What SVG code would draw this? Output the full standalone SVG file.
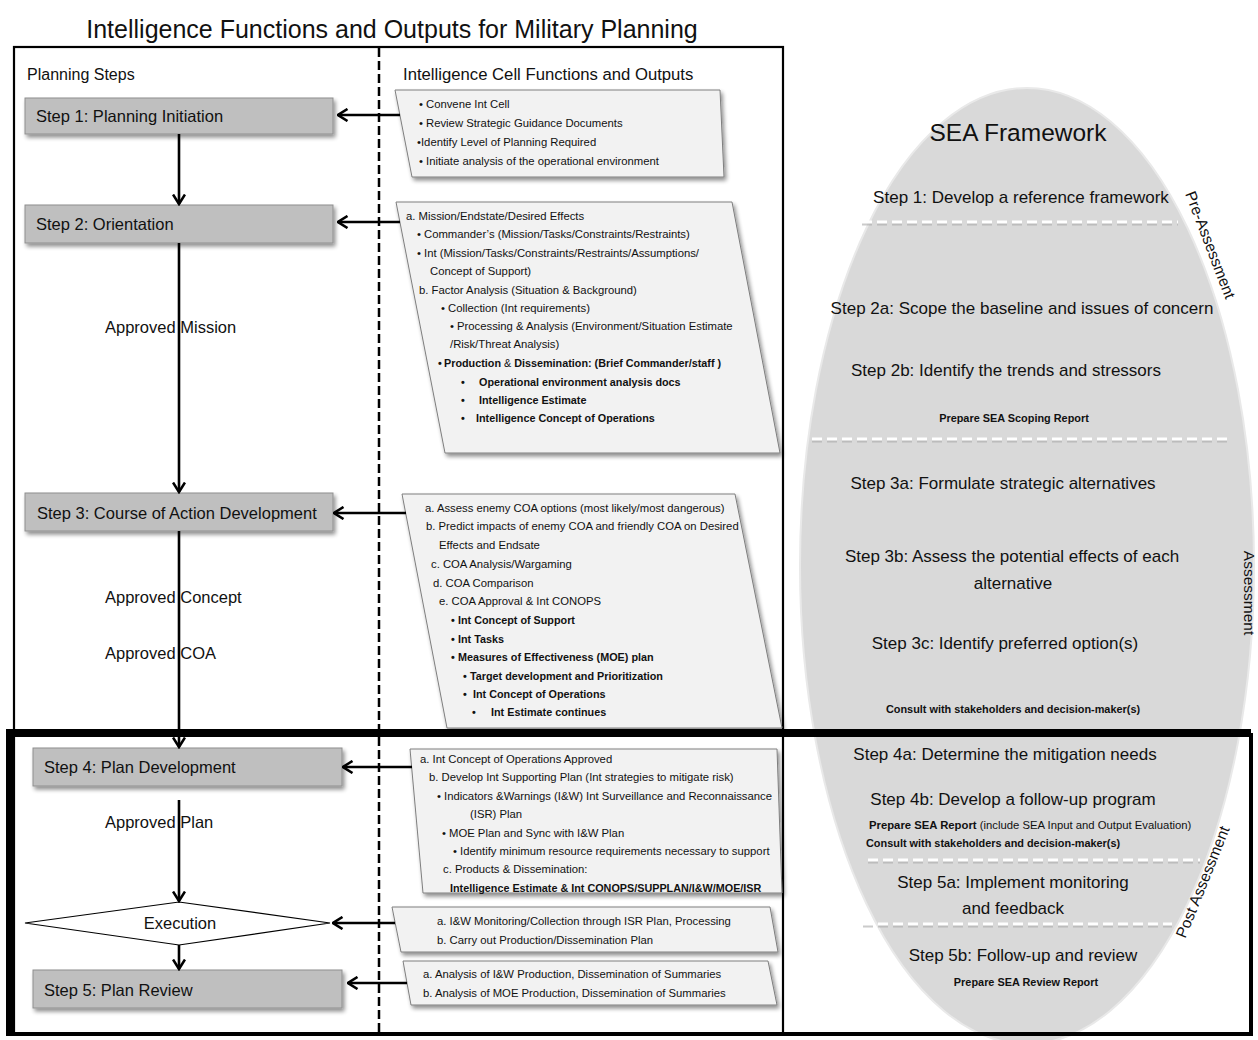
<svg xmlns="http://www.w3.org/2000/svg" width="1258" height="1040" viewBox="0 0 1258 1040">
  <defs>
    <style>
      text { font-family: "Liberation Sans", Arial, sans-serif; fill: #111; }
      .title { font-size: 25px; }
      .head { font-size: 16px; }
      .step { font-size: 16.5px; }
      .lbl { font-size: 16.5px; }
      .s { font-size: 11.3px; }
      .sb { font-size: 10.8px; font-weight: bold; }
      .sea { font-size: 17px; }
      .seab { font-size: 10.9px; font-weight: bold; }
      .side { font-size: 15.5px; }
      .box { fill: #bfbfbf; stroke: #8f8f8f; stroke-width: 1; }
      .para { fill: #f2f2f2; stroke: #7f7f7f; stroke-width: 1; }
      .flow { stroke: #000; stroke-width: 2.6; fill: none; }
      .wdash { stroke: #fff; stroke-width: 3; stroke-dasharray: 10 5; fill: none; }
      .wdash-sh { stroke: #a8a8a8; stroke-width: 3; stroke-dasharray: 10 5; fill: none; opacity: 0.6; }
    </style>
    <marker id="arr" viewBox="0 0 12 14" refX="10.5" refY="7" markerWidth="12" markerHeight="14" markerUnits="userSpaceOnUse" orient="auto">
      <path d="M1,1 L10.5,7 L1,13" fill="none" stroke="#000" stroke-width="2.6"/>
    </marker>
    <filter id="sh" x="-5%" y="-10%" width="115%" height="135%">
      <feGaussianBlur in="SourceAlpha" stdDeviation="2"/>
      <feOffset dx="2" dy="3"/>
      <feComponentTransfer><feFuncA type="linear" slope="0.45"/></feComponentTransfer>
      <feMerge><feMergeNode/><feMergeNode in="SourceGraphic"/></feMerge>
    </filter>
  </defs>

  <rect width="1258" height="1040" fill="#fff"/>

  <!-- SEA framework backdrop -->
  <g id="sea-framework">
    <ellipse cx="1027" cy="566" rx="227" ry="478" fill="#d9d9d9" stroke="#e9e9e9" stroke-width="2"/>
    <text class="title" x="1018" y="141" text-anchor="middle" style="font-size:24.5px">SEA Framework</text>

    <text class="sea" x="1021" y="203" text-anchor="middle">Step 1: Develop a reference framework</text>
    <line class="wdash-sh" x1="862" y1="224" x2="1178" y2="224"/>
    <line class="wdash" x1="862" y1="222" x2="1178" y2="222"/>
    <text class="side" transform="translate(1210,245) rotate(69)" x="0" y="5" text-anchor="middle">Pre-Assessment</text>

    <text class="sea" x="1022" y="314" text-anchor="middle">Step 2a: Scope the baseline and issues of concern</text>
    <text class="sea" x="1006" y="376" text-anchor="middle">Step 2b: Identify the trends and stressors</text>
    <text class="seab" x="1014" y="422" text-anchor="middle">Prepare SEA Scoping Report</text>
    <line class="wdash-sh" x1="812" y1="441" x2="1228" y2="441"/>
    <line class="wdash" x1="812" y1="439" x2="1228" y2="439"/>

    <text class="sea" x="1003" y="489" text-anchor="middle">Step 3a: Formulate strategic alternatives</text>
    <text class="sea" x="1012" y="562" text-anchor="middle">Step 3b: Assess the potential effects of each</text>
    <text class="sea" x="1013" y="589" text-anchor="middle">alternative</text>
    <text class="side" transform="translate(1249,593) rotate(90)" x="0" y="5" text-anchor="middle">Assessment</text>
    <text class="sea" x="1005" y="649" text-anchor="middle">Step 3c: Identify preferred option(s)</text>
    <text class="seab" x="1013" y="713" text-anchor="middle">Consult with stakeholders and decision-maker(s)</text>

    <text class="sea" x="1005" y="760" text-anchor="middle">Step 4a: Determine the mitigation needs</text>
    <text class="sea" x="1013" y="805" text-anchor="middle">Step 4b: Develop a follow-up program</text>
    <text x="869" y="829" style="font-size:11.3px"><tspan font-weight="bold">Prepare SEA Report</tspan> (include SEA Input and Output Evaluation)</text>
    <text class="seab" x="866" y="847">Consult with stakeholders and decision-maker(s)</text>
    <line class="wdash-sh" x1="868" y1="862" x2="1200" y2="862"/>
    <line class="wdash" x1="868" y1="860" x2="1200" y2="860"/>
    <text class="sea" x="1013" y="888" text-anchor="middle">Step 5a: Implement monitoring</text>
    <text class="sea" x="1013" y="914" text-anchor="middle">and feedback</text>
    <line class="wdash-sh" x1="863" y1="926" x2="1172" y2="926"/>
    <line class="wdash" x1="863" y1="924" x2="1172" y2="924"/>
    <text class="side" transform="translate(1203,882) rotate(-68)" x="0" y="5" text-anchor="middle">Post Assessment</text>
    <text class="sea" x="1023" y="961" text-anchor="middle">Step 5b: Follow-up and review</text>
    <text class="seab" x="1026" y="986" text-anchor="middle">Prepare SEA Review Report</text>
  </g>

  <!-- title and swimlane frame -->
  <text class="title" x="392" y="38" text-anchor="middle">Intelligence Functions and Outputs for Military Planning</text>
  <g id="lanes">
    <rect x="14" y="47" width="769" height="987" fill="none" stroke="#000" stroke-width="2.2"/>
    <line x1="379" y1="48" x2="379" y2="1033" stroke="#000" stroke-width="2.5" stroke-dasharray="9 4"/>
    <text class="head" x="27" y="80">Planning Steps</text>
    <text class="head" x="403" y="80" style="font-size:16.7px">Intelligence Cell Functions and Outputs</text>
  </g>

  <!-- planning steps -->
  <g id="step1">
    <rect class="box" x="25" y="98" width="308" height="36" filter="url(#sh)"/>
    <text class="step" x="36" y="122">Step 1: Planning Initiation</text>
  </g>
  <g id="step2">
    <rect class="box" x="25" y="205" width="308" height="38" filter="url(#sh)"/>
    <text class="step" x="36" y="230">Step 2: Orientation</text>
  </g>
  <g id="step3">
    <rect class="box" x="25" y="493" width="308" height="38" filter="url(#sh)"/>
    <text class="step" x="37" y="519">Step 3: Course of Action Development</text>
  </g>
  <g id="step4">
    <rect class="box" x="33" y="748" width="309" height="38" filter="url(#sh)"/>
    <text class="step" x="44" y="773">Step 4: Plan Development</text>
  </g>
  <g id="execution">
    <polygon points="25,923 179,902 330,923 179,945" fill="#fff" stroke="#000" stroke-width="1.2"/>
    <text class="step" x="180" y="929" text-anchor="middle">Execution</text>
  </g>
  <g id="step5">
    <rect class="box" x="33" y="970" width="309" height="38" filter="url(#sh)"/>
    <text class="step" x="44" y="996">Step 5: Plan Review</text>
  </g>

  <!-- intelligence cell outputs -->
  <g id="int1">
    <polygon class="para" points="395,90 720,90 724,177 412,177" filter="url(#sh)"/>
    <text class="s" x="419" y="108">•</text><text class="s" x="426" y="108">Convene Int Cell</text>
    <text class="s" x="419" y="127">•</text><text class="s" x="426" y="127">Review Strategic Guidance Documents</text>
    <text class="s" x="417" y="146">•Identify Level of Planning Required</text>
    <text class="s" x="419" y="165">•</text><text class="s" x="426" y="165">Initiate analysis of the operational environment</text>
  </g>
  <g id="int2">
    <polygon class="para" points="396,202 732,202 780,453 445,453" filter="url(#sh)"/>
    <text class="s" x="406" y="220">a. Mission/Endstate/Desired Effects</text>
    <text class="s" x="417" y="238">•</text><text class="s" x="424" y="238">Commander’s  (Mission/Tasks/Constraints/Restraints)</text>
    <text class="s" x="417" y="257">•</text><text class="s" x="424" y="257">Int (Mission/Tasks/Constraints/Restraints/Assumptions/</text>
    <text class="s" x="430" y="275">Concept of Support)</text>
    <text class="s" x="419" y="294">b. Factor Analysis (Situation &amp; Background)</text>
    <text class="s" x="441" y="312">•</text><text class="s" x="448" y="312">Collection (Int requirements)</text>
    <text class="s" x="450" y="330">•</text><text class="s" x="457" y="330">Processing &amp; Analysis (Environment/Situation Estimate</text>
    <text class="s" x="450" y="348">/Risk/Threat Analysis)</text>
    <text class="sb" x="438" y="367">•</text><text class="sb" x="444" y="367">Production <tspan font-weight="normal">&amp;</tspan> Dissemination: (Brief Commander/staff )</text>
    <text class="sb" x="461" y="386">•</text><text class="sb" x="479" y="386">Operational environment analysis docs</text>
    <text class="sb" x="461" y="404">•</text><text class="sb" x="479" y="404">Intelligence Estimate</text>
    <text class="sb" x="461" y="422">•</text><text class="sb" x="476" y="422">Intelligence Concept of Operations</text>
  </g>
  <g id="int3">
    <polygon class="para" points="402,494 735,494 782,728 447,728" filter="url(#sh)"/>
    <text class="s" x="425" y="512">a. Assess enemy COA options (most likely/most dangerous)</text>
    <text class="s" x="426" y="530">b. Predict impacts of enemy COA and friendly COA on Desired</text>
    <text class="s" x="439" y="549">Effects and Endsate</text>
    <text class="s" x="431" y="568">c. COA Analysis/Wargaming</text>
    <text class="s" x="433" y="587">d. COA Comparison</text>
    <text class="s" x="439" y="605">e. COA Approval &amp; Int CONOPS</text>
    <text class="sb" x="451" y="624">•</text><text class="sb" x="458" y="624">Int Concept of Support</text>
    <text class="sb" x="451" y="643">•</text><text class="sb" x="458" y="643">Int Tasks</text>
    <text class="sb" x="451" y="661">•</text><text class="sb" x="458" y="661">Measures of Effectiveness (MOE) plan</text>
    <text class="sb" x="463" y="680">•</text><text class="sb" x="470" y="680">Target development and Prioritization</text>
    <text class="sb" x="463" y="698">•</text><text class="sb" x="473" y="698">Int Concept of Operations</text>
    <text class="sb" x="472" y="716">•</text><text class="sb" x="491" y="716">Int Estimate continues</text>
  </g>
  <g id="int4">
    <polygon class="para" points="410,749 777,749 782,893 423,893" filter="url(#sh)"/>
    <text class="s" x="420" y="763">a. Int Concept of Operations Approved</text>
    <text class="s" x="429" y="781">b. Develop Int Supporting Plan (Int strategies to mitigate risk)</text>
    <text class="s" x="437" y="800">•</text><text class="s" x="444" y="800">Indicators &amp;Warnings (I&amp;W) Int Surveillance and Reconnaissance</text>
    <text class="s" x="470" y="818">(ISR) Plan</text>
    <text class="s" x="442" y="837">•</text><text class="s" x="449" y="837">MOE Plan and Sync with I&amp;W Plan</text>
    <text class="s" x="453" y="855">•</text><text class="s" x="460" y="855">Identify minimum resource requirements necessary to support</text>
    <text class="s" x="443" y="873">c. Products &amp; Dissemination:</text>
    <text class="sb" x="450" y="892">Intelligence Estimate &amp; Int CONOPS/SUPPLAN/I&amp;W/MOE/ISR</text>
  </g>
  <g id="int5">
    <polygon class="para" points="392,907 770,907 778,952 401,952" filter="url(#sh)"/>
    <text class="s" x="437" y="925">a. I&amp;W Monitoring/Collection through ISR Plan, Processing</text>
    <text class="s" x="437" y="944">b. Carry out Production/Dissemination Plan</text>
  </g>
  <g id="int6">
    <polygon class="para" points="403,961 768,961 777,1005 411,1005" filter="url(#sh)"/>
    <text class="s" x="423" y="978">a. Analysis of I&amp;W Production, Dissemination of Summaries</text>
    <text class="s" x="423" y="997">b. Analysis of MOE Production, Dissemination of Summaries</text>
  </g>

  <!-- connectors -->
  <g id="connectors">
    <line class="flow" x1="179" y1="134" x2="179" y2="204" marker-end="url(#arr)"/>
    <line class="flow" x1="179" y1="243" x2="179" y2="492" marker-end="url(#arr)"/>
    <line class="flow" x1="179" y1="531" x2="179" y2="747" marker-end="url(#arr)"/>
    <line class="flow" x1="179" y1="800" x2="179" y2="901" marker-end="url(#arr)"/>
    <line class="flow" x1="179" y1="945" x2="179" y2="969" marker-end="url(#arr)"/>
    <line class="flow" x1="400" y1="115" x2="338" y2="115" marker-end="url(#arr)"/>
    <line class="flow" x1="400" y1="222" x2="338" y2="222" marker-end="url(#arr)"/>
    <line class="flow" x1="406" y1="513" x2="334" y2="513" marker-end="url(#arr)"/>
    <line class="flow" x1="412" y1="767" x2="343" y2="767" marker-end="url(#arr)"/>
    <line class="flow" x1="395" y1="923" x2="333" y2="923" marker-end="url(#arr)"/>
    <line class="flow" x1="407" y1="983" x2="348" y2="983" marker-end="url(#arr)"/>
  </g>

  <!-- approval labels -->
  <g id="labels">
    <text class="lbl" x="105" y="333">Approved Mission</text>
    <text class="lbl" x="105" y="603">Approved Concept</text>
    <text class="lbl" x="105" y="659">Approved COA</text>
    <text class="lbl" x="105" y="828">Approved Plan</text>
  </g>

  <!-- execution phase outline -->
  <g id="execution-phase">
    <path d="M1251,733 V1034 H10" fill="none" stroke="#000" stroke-width="4"/>
    <path d="M10,1036 V733 H1251" fill="none" stroke="#000" stroke-width="8" stroke-linejoin="miter"/>
  </g>
</svg>
